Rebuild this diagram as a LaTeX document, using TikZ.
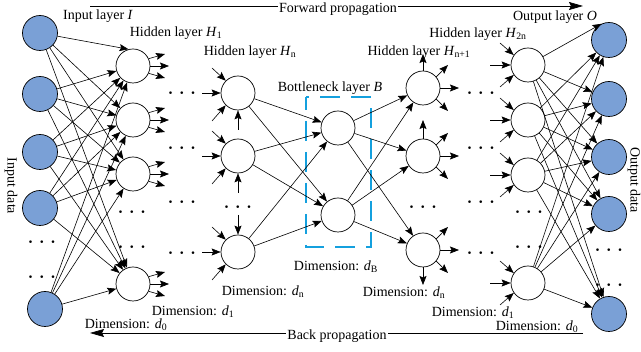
\documentclass[tikz,border=0pt]{standalone}
\usepackage{amsmath}
\usepackage{fontspec}
\setmainfont{Liberation Serif}
\usetikzlibrary{arrows.meta}
\definecolor{nodeblue}{RGB}{122,160,214}
\definecolor{boxblue}{RGB}{20,160,222}
\newcommand{\mydots}{$\boldsymbol{\cdot}\mkern2mu\boldsymbol{\cdot}\mkern2mu\boldsymbol{\cdot}$}
\begin{document}
\begin{tikzpicture}[x=1pt,y=-1pt,
  conn/.style={line width=0.6pt,-{Stealth[length=9pt,width=7pt,inset=1.5pt]}},
  prop/.style={line width=0.7pt,-{Stealth[length=14pt,width=8pt,inset=2pt]}},
  bluenode/.style={circle,draw,line width=0.7pt,fill=nodeblue,minimum size=35pt,inner sep=0pt},
  whitenode/.style={circle,draw,line width=0.7pt,fill=white,minimum size=34pt,inner sep=0pt},
  lbl/.style={font=\fontsize{14}{16}\selectfont,inner sep=0pt},
  dotsnode/.style={font=\fontsize{17}{18}\selectfont,inner sep=0pt},
  bbox/.style={draw=boxblue,line width=1.6pt,dash pattern=on 20pt off 11pt,dash phase=7pt}]
\useasboundingbox (0,0) rectangle (641,352);

% ---------- nodes ----------
\node[bluenode] (I1) at (40,33) {};
\node[bluenode] (I2) at (40,94) {};
\node[bluenode] (I3) at (40,152) {};
\node[bluenode] (I4) at (40,208) {};
\node[bluenode] (I5) at (45,309) {};
\node[dotsnode] (Id1) at (42,242) {\mydots};
\node[dotsnode] (Id2) at (42,277) {\mydots};

\node[whitenode] (A1) at (133,66) {};
\node[whitenode] (A2) at (133,120) {};
\node[whitenode] (A3) at (133,174) {};
\node[whitenode] (A4) at (133,284) {};
\node[dotsnode] (Ad1) at (132,212) {\mydots};
\node[dotsnode] (Ad2) at (132,247) {\mydots};

\node[dotsnode] (L1) at (182,93) {\mydots};
\node[dotsnode] (L2) at (182,148) {\mydots};
\node[dotsnode] (L3) at (182,202) {\mydots};
\node[dotsnode] (L4) at (182,253) {\mydots};

\node[whitenode] (N1) at (238,93) {};
\node[whitenode] (N2) at (238,156) {};
\node[whitenode] (N3) at (238,252) {};
\node[dotsnode] (Nd) at (238,207) {\mydots};

\node[whitenode] (B1) at (338,128) {};
\node[whitenode] (B2) at (338,215) {};

\node[whitenode] (M1) at (423,88) {};
\node[whitenode] (M2) at (423,156) {};
\node[whitenode] (M3) at (423,250) {};
\node[dotsnode] (Md) at (423,207) {\mydots};

\node[dotsnode] (R1) at (481,93) {\mydots};
\node[dotsnode] (R2) at (481,148) {\mydots};
\node[dotsnode] (R3) at (481,202) {\mydots};
\node[dotsnode] (R4) at (481,253) {\mydots};

\node[whitenode] (Z1) at (528,65) {};
\node[whitenode] (Z2) at (528,120) {};
\node[whitenode] (Z3) at (528,175) {};
\node[whitenode] (Z4) at (528,283) {};
\node[dotsnode] (Zd1) at (529,212) {\mydots};
\node[dotsnode] (Zd2) at (529,247) {\mydots};

\node[bluenode] (O1) at (609,40) {};
\node[bluenode] (O2) at (609,99) {};
\node[bluenode] (O3) at (609,157) {};
\node[bluenode] (O4) at (609,214) {};
\node[bluenode] (O5) at (609,314) {};
\node[dotsnode] (Od1) at (609,250) {\mydots};
\node[dotsnode] (Od2) at (609,285) {\mydots};

% ---------- bottleneck box ----------
\draw[bbox] (306,97) rectangle (371,247);

% ---------- full connections ----------
\draw[conn] (I1) -- (A1.105);
\foreach \j in {2,3,4} \draw[conn] (I1) -- (A\j);
\foreach \i in {2,...,5} \foreach \j in {1,...,4} \draw[conn] (I\i) -- (A\j);

\foreach \i in {1,2,3} \foreach \j in {1,2} \draw[conn] (N\i) -- (B\j);
\foreach \i in {1,2} \foreach \j in {1,2,3} \draw[conn] (B\i) -- (M\j);

\draw[conn] (Z1) -- (O1.115);
\foreach \j in {2,...,5} \draw[conn] (Z1) -- (O\j);
\foreach \i in {2,3,4} \foreach \j in {1,...,5} \draw[conn] (Z\i) -- (O\j);

% ---------- H1 outgoing fans ----------
\foreach \j in {1,...,4}{
  \path (A\j) ++(32,-12) coordinate (A\j u);
  \path (A\j) ++(36,0) coordinate (A\j r);
  \path (A\j) ++(32,12) coordinate (A\j d);
  \draw[conn] (A\j.25) -- (A\j u);
  \draw[conn] (A\j.0) -- (A\j r);
  \draw[conn] (A\j.-25) -- (A\j d);
}

% ---------- Hn incoming fans ----------
\foreach \j in {1,2,3}{
  \path (N\j) ++(-26,-25) coordinate (N\j u);
  \path (N\j) ++(-36,0) coordinate (N\j l);
  \path (N\j) ++(-26,28) coordinate (N\j d);
  \draw[conn] (N\j u) -- (N\j.135);
  \draw[conn] (N\j l) -- (N\j.180);
  \draw[conn] (N\j d) -- (N\j.225);
}
\path (N1) ++(0,37) coordinate (N1b);
\path (N2) ++(0,37) coordinate (N2b);
\path (N3) ++(0,-37) coordinate (N3t);
\draw[conn] (N1b) -- (N1.270);
\draw[conn] (N2b) -- (N2.270);
\draw[conn] (N3t) -- (N3.90);

% ---------- Hn+1 outgoing fans ----------
\foreach \j in {1,2,3}{
  \path (M\j) ++(25,-23) coordinate (M\j u);
  \path (M\j) ++(36,0) coordinate (M\j r);
  \path (M\j) ++(25,23) coordinate (M\j d);
  \draw[conn] (M\j.40) -- (M\j u);
  \draw[conn] (M\j.0) -- (M\j r);
  \draw[conn] (M\j.-40) -- (M\j d);
}
\path (M1) ++(0,-34) coordinate (M1t);
\path (M2) ++(0,-36) coordinate (M2t);
\path (M3) ++(0,35) coordinate (M3b);
\draw[conn] (M1.90) -- (M1t);
\draw[conn] (M2.90) -- (M2t);
\draw[conn] (M3.270) -- (M3b);

% ---------- H2n incoming fans ----------
\foreach \j in {1,...,4}{
  \path (Z\j) ++(-28,-22) coordinate (Z\j u);
  \path (Z\j) ++(-38,0) coordinate (Z\j l);
  \path (Z\j) ++(-28,22) coordinate (Z\j d);
  \draw[conn] (Z\j u) -- (Z\j.145);
  \draw[conn] (Z\j l) -- (Z\j.180);
  \draw[conn] (Z\j d) -- (Z\j.215);
}

% ---------- propagation arrows ----------
\coordinate (fs) at (90,6);
\coordinate (fe) at (583,6);
\draw[prop] (fs) -- (fe);
\node[lbl,fill=white,inner xsep=1pt,inner ysep=1pt] (fwd) at (338,9) {Forward propagation};
\coordinate (bs) at (583,333);
\coordinate (be) at (90,333);
\draw[prop] (bs) -- (be);
\node[lbl,fill=white,inner xsep=1pt,inner ysep=1pt] (bwd) at (337,336) {Back propagation};

% ---------- labels ----------
\node[lbl] (tI) at (98,16) {Input layer \textit{I}};
\node[lbl] (tH1) at (176,33) {Hidden layer \textit{H}\textsubscript{1}};
\node[lbl] (tHn) at (250,52) {Hidden layer \textit{H}\textsubscript{n}};
\node[lbl] (tB) at (330,88) {Bottleneck layer \textit{B}};
\node[lbl] (tHn1) at (419,52) {Hidden layer \textit{H}\textsubscript{n+1}};
\node[lbl] (tH2n) at (478,34) {Hidden layer \textit{H}\textsubscript{2n}};
\node[lbl] (tO) at (555,17) {Output layer \textit{O}};
\node[lbl,rotate=-90] (tin) at (11,186) {Input data};
\node[lbl,rotate=-90] (tout) at (634,180) {Output data};

\node[lbl] (dl0) at (126,325) {Dimension: \textit{d}\textsubscript{0}};
\node[lbl] (dl1) at (193,312) {Dimension: \textit{d}\textsubscript{1}};
\node[lbl] (dln) at (263,292) {Dimension: \textit{d}\textsubscript{n}};
\node[lbl] (dB) at (336,267) {Dimension: \textit{d}\textsubscript{B}};
\node[lbl] (drn) at (404,293) {Dimension: \textit{d}\textsubscript{n}};
\node[lbl] (dr1) at (473,313) {Dimension: \textit{d}\textsubscript{1}};
\node[lbl] (dr0) at (537,327) {Dimension: \textit{d}\textsubscript{0}};
\end{tikzpicture}
\end{document}
